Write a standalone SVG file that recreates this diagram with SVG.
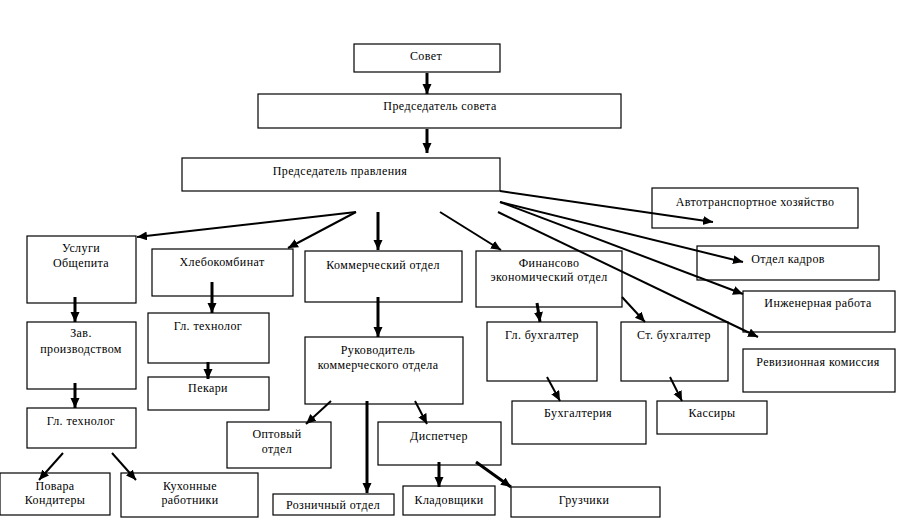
<svg xmlns="http://www.w3.org/2000/svg" width="906" height="525" viewBox="0 0 906 525" font-family="Liberation Serif, Times New Roman, serif">
<style>
.b{fill:#fff;stroke:#000;stroke-width:1.2}
text{font-family:"Liberation Serif",serif;font-size:12px;fill:#000;text-anchor:middle;letter-spacing:0.4px}
.c{stroke:#000;stroke-width:2;fill:none;marker-end:url(#a)}
.w{stroke-width:3}
</style>
<defs>
<marker id="a" markerUnits="userSpaceOnUse" markerWidth="12" markerHeight="10" refX="10" refY="4.5" orient="auto">
<path d="M0,0 L10,4.5 L0,9 z" fill="#000"/>
</marker>
</defs>
<rect width="906" height="525" fill="#fff"/>
<g id="sovet"><rect class="b" x="354" y="44" width="146" height="28"/><text x="426" y="60">Совет</text></g>
<g id="pred-soveta"><rect class="b" x="258" y="94" width="363" height="34"/><text x="440" y="110">Председатель совета</text></g>
<g id="pred-pravleniya"><rect class="b" x="182" y="158" width="318" height="33"/><text x="340" y="175">Председатель правления</text></g>
<g id="avtotransport"><rect class="b" x="652" y="188" width="206" height="40"/><text x="755" y="206">Автотранспортное хозяйство</text></g>
<g id="otdel-kadrov"><rect class="b" x="697" y="246" width="182" height="34"/><text x="788" y="263">Отдел кадров</text></g>
<g id="inzhenernaya"><rect class="b" x="743" y="291" width="152" height="41"/><text x="818" y="307">Инженерная работа</text></g>
<g id="revizionnaya"><rect class="b" x="743" y="349" width="152" height="43"/><text x="818" y="366">Ревизионная комиссия</text></g>
<g id="finansovo"><rect class="b" x="476" y="251" width="146" height="56"/><text x="549" y="267">Финансово</text><text x="549" y="281">экономический отдел</text></g>
<g id="gl-buh"><rect class="b" x="487" y="322" width="110" height="59"/><text x="542" y="339">Гл. бухгалтер</text></g>
<g id="st-buh"><rect class="b" x="621" y="322" width="107" height="59"/><text x="674" y="339">Ст. бухгалтер</text></g>
<g id="buhgalteriya"><rect class="b" x="512" y="401" width="134" height="43"/><text x="578" y="417">Бухгалтерия</text></g>
<g id="kassiry"><rect class="b" x="657" y="401" width="110" height="33"/><text x="712" y="417">Кассиры</text></g>
<g id="kommercheskiy"><rect class="b" x="305" y="251" width="157" height="51"/><text x="383" y="269">Коммерческий отдел</text></g>
<g id="rukovoditel"><rect class="b" x="305" y="337" width="158" height="67"/><text x="378" y="354">Руководитель</text><text x="378" y="369">коммерческого отдела</text></g>
<g id="optovyy"><rect class="b" x="227" y="422" width="104" height="46"/><text x="277" y="438">Оптовый</text><text x="277" y="453">отдел</text></g>
<g id="roznichnyy"><rect class="b" x="273" y="494" width="121" height="21"/><text x="333" y="509">Розничный отдел</text></g>
<g id="dispetcher"><rect class="b" x="378" y="422" width="123" height="43"/><text x="439" y="440">Диспетчер</text></g>
<g id="kladovshchiki"><rect class="b" x="403" y="486" width="92" height="29"/><text x="449" y="504">Кладовщики</text></g>
<g id="gruzchiki"><rect class="b" x="511" y="487" width="149" height="30"/><text x="584" y="504">Грузчики</text></g>
<g id="uslugi"><rect class="b" x="27" y="236" width="109" height="67"/><text x="81" y="252">Услуги</text><text x="81" y="267">Общепита</text></g>
<g id="zav"><rect class="b" x="27" y="322" width="109" height="67"/><text x="81" y="337">Зав.</text><text x="81" y="353">производством</text></g>
<g id="gl-tehnolog-1"><rect class="b" x="27" y="408" width="109" height="40"/><text x="81" y="425">Гл. технолог</text></g>
<g id="povara"><rect class="b" x="0" y="473" width="110" height="42"/><text x="55" y="490">Повара</text><text x="55" y="504">Кондитеры</text></g>
<g id="kuhonnye"><rect class="b" x="121" y="473" width="137" height="44"/><text x="190" y="490">Кухонные</text><text x="190" y="504">работники</text></g>
<g id="hlebokombinat"><rect class="b" x="152" y="249" width="141" height="47"/><text x="222" y="266">Хлебокомбинат</text></g>
<g id="gl-tehnolog-2"><rect class="b" x="148" y="313" width="121" height="50"/><text x="208" y="330">Гл. технолог</text></g>
<g id="pekari"><rect class="b" x="148" y="377" width="121" height="33"/><text x="208" y="392">Пекари</text></g>
<g id="connectors">
<line class="c w" x1="427" y1="73" x2="427" y2="94"/>
<line class="c w" x1="427" y1="129" x2="427" y2="153"/>
<line class="c" x1="356" y1="212" x2="137" y2="237"/>
<line class="c" x1="356" y1="212" x2="288" y2="248"/>
<line class="c w" x1="378" y1="212" x2="378" y2="250"/>
<line class="c" x1="440" y1="212" x2="501" y2="250"/>
<line class="c" x1="500" y1="191" x2="713" y2="222"/>
<line class="c" x1="500" y1="202" x2="743" y2="262"/>
<line class="c" x1="500" y1="202" x2="743" y2="294"/>
<line class="c" x1="498" y1="212" x2="758" y2="337"/>
<line class="c w" x1="537" y1="303" x2="540" y2="322"/>
<line class="c" x1="622" y1="297" x2="645" y2="322"/>
<line class="c" x1="547" y1="377" x2="560" y2="401"/>
<line class="c" x1="670" y1="377" x2="682" y2="401"/>
<line class="c w" x1="378" y1="297" x2="378" y2="337"/>
<line class="c" x1="331" y1="401" x2="306" y2="424"/>
<line class="c w" x1="367" y1="401" x2="367" y2="493"/>
<line class="c" x1="415" y1="401" x2="427" y2="424"/>
<line class="c w" x1="439" y1="462" x2="439" y2="487"/>
<line class="c w" x1="476" y1="462" x2="511" y2="487"/>
<line class="c w" x1="75" y1="297" x2="75" y2="322"/>
<line class="c w" x1="212" y1="282" x2="212" y2="313"/>
<line class="c w" x1="208" y1="362" x2="208" y2="379"/>
<line class="c w" x1="75" y1="383" x2="75" y2="408"/>
<line class="c" x1="63" y1="453" x2="39" y2="480"/>
<line class="c" x1="112" y1="453" x2="136" y2="480"/>
</g>
</svg>
